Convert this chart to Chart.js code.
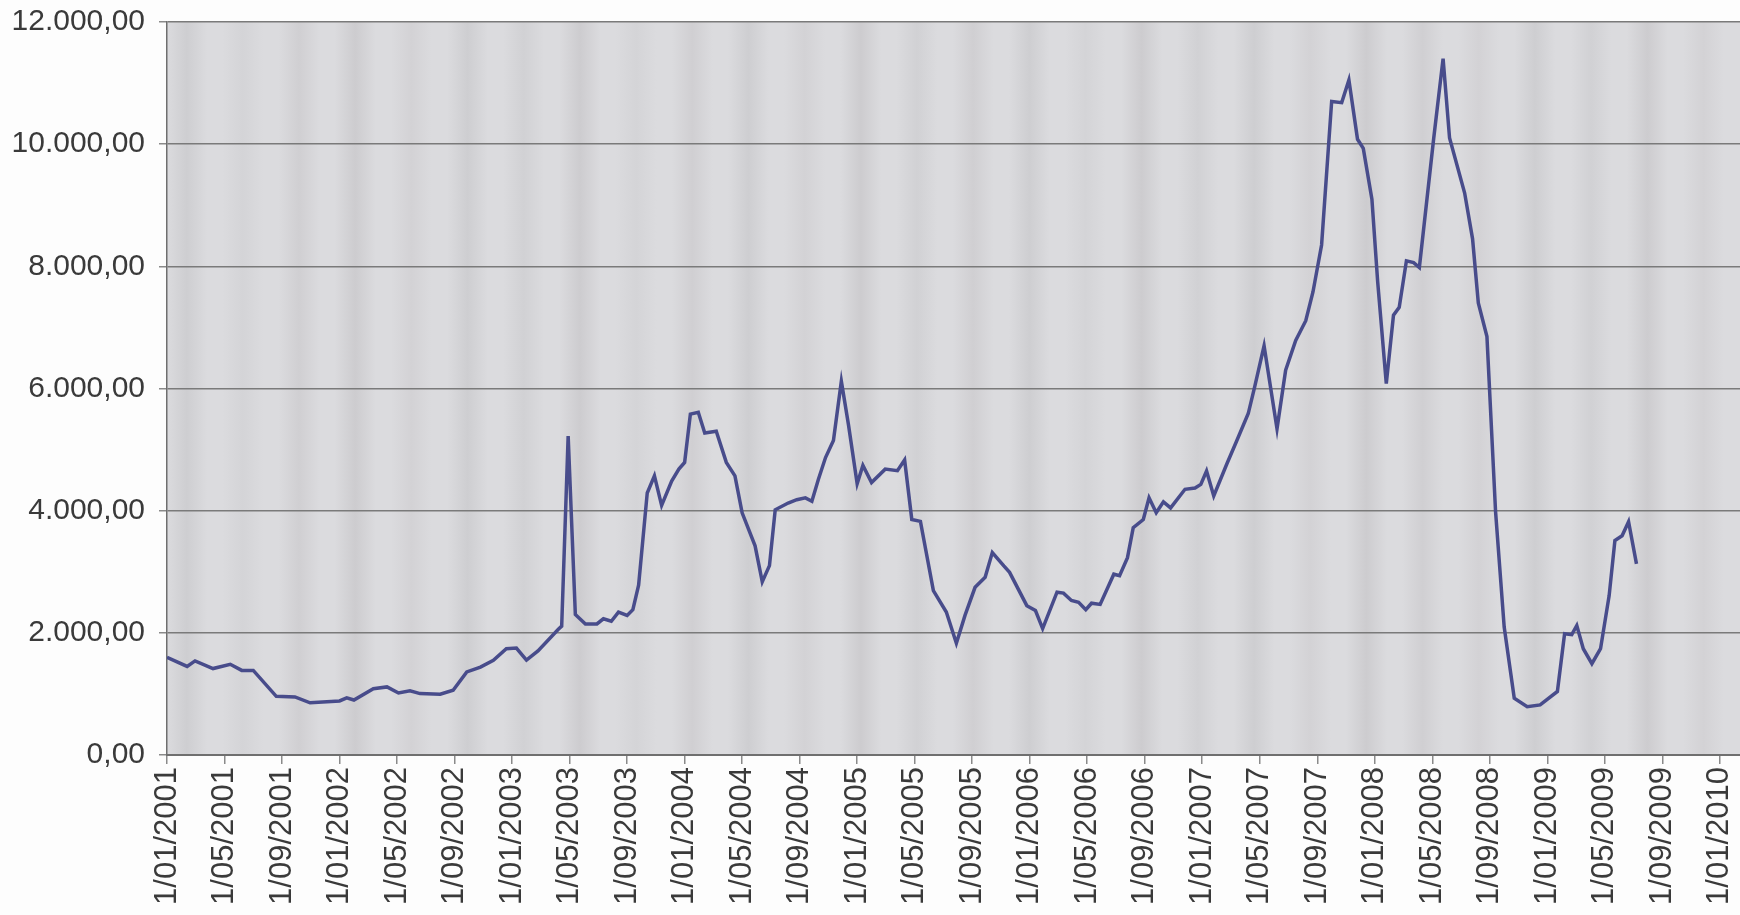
<!DOCTYPE html>
<html>
<head>
<meta charset="utf-8">
<title>Index 2001-2009</title>
<script src="https://cdn.jsdelivr.net/npm/chart.js@4/dist/chart.umd.min.js"></script>
<style>
  html, body { margin: 0; padding: 0; background: #fdfdfd; }
  #wrap { width: 1740px; height: 915px; }
</style>
</head>
<body>
<div id="wrap"><canvas id="indexChart"></canvas></div>
<script>
// x positions in months since 1/01/2001, one entry per reading
const monthPos = [
  0, 1.4, 1.95, 3.2, 4.4, 5.2, 6.0, 7.6, 8.9, 9.95,                                     // 2001
  12.0, 12.5, 13.0, 14.35, 15.3, 16.1, 16.9, 17.6, 19.0, 19.9, 20.85, 21.8, 22.7, 23.6,  // 2002
  24.3, 25.0, 25.8, 27.2, 27.45, 27.9, 28.4, 29.1, 29.9, 30.35, 30.9, 31.4, 32.0, 32.4,
  32.8, 33.4, 33.9, 34.4, 35.1, 35.6,                                                    // 2003
  36.0, 36.4, 36.95, 37.4, 38.2, 38.9, 39.5, 40.0, 40.9, 41.4, 41.9, 42.3, 43.2, 43.8,
  44.4, 44.85, 45.3, 45.8, 46.35, 46.9, 47.4,                                            // 2004
  48.0, 48.4, 49.0, 49.95, 50.8, 51.3, 51.8, 52.4, 53.3, 54.2, 54.9, 55.5, 56.2, 56.9,
  57.4, 58.2, 58.6, 59.8,                                                                // 2005
  60.4, 60.9, 61.9, 62.35, 62.9, 63.4, 63.9, 64.3, 64.9, 65.85, 66.25, 66.8, 67.2, 67.9,
  68.3, 68.8, 69.3, 69.8, 70.8, 71.5, 71.9,                                              // 2006
  72.3, 72.8, 73.7, 74.4, 75.2, 75.65, 76.3, 77.2, 77.8, 78.5, 79.2, 79.7, 80.3, 81.0,
  81.7, 82.2, 82.8, 83.2, 83.8,                                                          // 2007
  84.2, 84.8, 85.3, 85.7, 86.2, 86.7, 87.1, 88.1, 88.75, 89.2, 90.25, 90.8, 91.2, 91.8,
  92.4, 93.0, 93.7, 94.6, 95.5,                                                          // 2008
  96.7, 97.2, 97.7, 98.05, 98.5, 99.1, 99.7, 100.3, 100.7, 101.2, 101.65, 102.2          // 2009
];

const indexValues = [
  1600, 1450, 1540, 1415, 1485, 1385, 1385, 960, 950, 855,
  885, 935, 900, 1085, 1115, 1015, 1050, 1005, 995, 1060, 1360, 1440, 1550, 1740,
  1750, 1555, 1705, 2055, 2110, 5220, 2300, 2145, 2145, 2230, 2190, 2340, 2285, 2380,
  2780, 4290, 4570, 4085, 4485, 4680,
  4790, 5580, 5610, 5270, 5300, 4790, 4570, 3965, 3425, 2835, 3100, 4015, 4125, 4180,
  4210, 4155, 4510, 4870, 5150, 6120, 5400,
  4440, 4740, 4460, 4680, 4655, 4830, 3855, 3825, 2690, 2340, 1830, 2285, 2745, 2910,
  3315, 3095, 2990, 2445,
  2365, 2070, 2665, 2650, 2530, 2500, 2380, 2485, 2465, 2960, 2935, 3230, 3720, 3855,
  4210, 3965, 4145, 4045, 4350, 4370, 4430,
  4650, 4240, 4760, 5145, 5590, 6030, 6700, 5340, 6300, 6785, 7110, 7580, 8350, 10700,
  10680, 11050, 10080, 9930, 9100,
  7750, 6080, 7200, 7330, 8090, 8060, 7980, 10100, 11400, 10100, 9200, 8450, 7400, 6850,
  3985, 2095, 930, 790, 820,
  1040, 1985, 1970, 2120, 1740, 1495, 1740, 2610, 3510, 3590, 3820, 3130
];

// date ticks, one every four months
const tickLabels = [
  '1/01/2001', '1/05/2001', '1/09/2001', '1/01/2002', '1/05/2002', '1/09/2002',
  '1/01/2003', '1/05/2003', '1/09/2003', '1/01/2004', '1/05/2004', '1/09/2004',
  '1/01/2005', '1/05/2005', '1/09/2005', '1/01/2006', '1/05/2006', '1/09/2006',
  '1/01/2007', '1/05/2007', '1/09/2007', '1/01/2008', '1/05/2008', '1/09/2008',
  '1/01/2009', '1/05/2009', '1/09/2009', '1/01/2010'
];
const tickMonths = [0, 4, 8, 12, 16, 20, 24, 28, 32, 36, 40, 44, 48, 52, 56, 60, 64, 68,
  72, 76, 80, 84, 88, 92, 96, 100, 104, 108];
const yTicks = [0, 2000, 4000, 6000, 8000, 10000, 12000];

// 12000 -> "12.000,00"
function formatValue(v) {
  const whole = String(Math.round(v)).replace(/\B(?=(\d{3})+(?!\d))/g, '.');
  return whole + ',00';
}

// grey plot fill with soft vertical streaks
const stripeShade = [0.9, 0.5, 0.8, 1.0, 0.6, 0.9, 0.7, 1.0, 0.5, 0.8, 0.9, 0.6, 1.0, 0.7,
  0.8, 0.9, 0.5, 1.0, 0.7, 0.9, 0.6, 1.0, 0.8, 0.6, 0.9, 0.7, 1.0, 0.6];
const plotBackground = {
  id: 'plotBackground',
  beforeDraw(chart) {
    const { ctx, chartArea: a } = chart;
    const base = 'rgb(219,219,222)';
    const g = ctx.createLinearGradient(a.left, 0, a.right, 0);
    const n = stripeShade.length;
    g.addColorStop(0, base);
    for (let i = 0; i < n; i++) {
      const t = (i + 0.35) / n;
      const k = stripeShade[i];
      const r = Math.round(219 - 14 * k), gg = Math.round(219 - 15 * k), b = Math.round(222 - 15 * k);
      g.addColorStop(Math.max(0, t - 0.013), base);
      g.addColorStop(t, `rgb(${r},${gg},${b})`);
      g.addColorStop(Math.min(1, t + 0.013), base);
    }
    g.addColorStop(1, base);
    ctx.save();
    ctx.fillStyle = g;
    ctx.fillRect(a.left, a.top, a.width, a.height);
    ctx.restore();
  }
};

const ctx = document.getElementById('indexChart').getContext('2d');
new Chart(ctx, {
  type: 'line',
  data: {
    datasets: [{
      label: 'Index',
      data: monthPos.map((m, i) => ({ x: m, y: indexValues[i] })),
      borderColor: '#484c8b',
      borderWidth: 3.5,
      pointRadius: 0,
      tension: 0,
      fill: false
    }]
  },
  options: {
    responsive: true,
    maintainAspectRatio: false,
    animation: false,
    layout: { padding: { top: 22, right: 0, bottom: 0, left: 0 } },
    plugins: { legend: { display: false }, tooltip: { enabled: false } },
    scales: {
      x: {
        type: 'linear',
        min: 0,
        max: 109.4,
        afterBuildTicks(scale) {
          scale.ticks = tickMonths.map(v => ({ value: v }));
        },
        afterFit(scale) {
          scale.height = 160;
          scale.paddingLeft = 0;
          scale.paddingRight = 0;
        },
        ticks: {
          autoSkip: false,
          maxRotation: 90,
          minRotation: 90,
          padding: 3,
          color: '#3a3a3a',
          font: { family: '"Liberation Sans", Arial, sans-serif', size: 31 },
          callback: (v) => tickLabels[tickMonths.indexOf(v)]
        },
        grid: {
          drawOnChartArea: false,
          drawTicks: true,
          tickLength: 9,
          tickColor: '#8a8a8a',
          lineWidth: 1.5
        },
        border: { color: '#6f6f6f', width: 2 }
      },
      y: {
        min: 0,
        max: 12000,
        afterBuildTicks(scale) {
          scale.ticks = yTicks.map(v => ({ value: v }));
        },
        afterFit(scale) {
          scale.width = 167;
          scale.paddingTop = 0;
          scale.paddingBottom = 0;
        },
        ticks: {
          padding: 14,
          color: '#3a3a3a',
          font: { family: '"Liberation Sans", Arial, sans-serif', size: 30 },
          callback: (v) => formatValue(v)
        },
        grid: {
          color: '#7a7a7a',
          lineWidth: 1.5,
          tickLength: 8,
          tickColor: '#8a8a8a'
        },
        border: { color: '#6f6f6f', width: 1.5 }
      }
    }
  },
  plugins: [plotBackground]
});
</script>
</body>
</html>
